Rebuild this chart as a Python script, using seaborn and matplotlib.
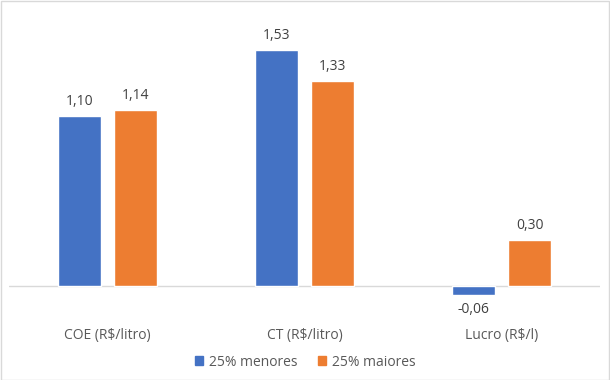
import matplotlib
matplotlib.use("Agg")
import matplotlib.pyplot as plt
import seaborn as sns
import pandas as pd
from matplotlib.patches import Rectangle

categories = ["COE (R$/litro)", "CT (R$/litro)", "Lucro (R$/l)"]
series_names = ["25% menores", "25% maiores"]
menores = [1.10, 1.53, -0.06]
maiores = [1.14, 1.33, 0.30]

rows = []
for c, a, b in zip(categories, menores, maiores):
    rows.append({"cat": c, "serie": series_names[0], "val": a})
    rows.append({"cat": c, "serie": series_names[1], "val": b})
df = pd.DataFrame(rows)

sns.set_theme(style="white")
plt.rcParams["font.family"] = ["Open Sans", "DejaVu Sans"]

fig = plt.figure(figsize=(6.1, 3.8), dpi=100)
ax = fig.add_axes([9/610, 1 - 301.4/380, 591/610, (301.4 - 16)/380])

palette = {"25% menores": "#4472C4", "25% maiores": "#ED7D31"}
sns.barplot(data=df, x="cat", y="val", hue="serie", palette=palette,
            width=0.57, gap=0.22, ax=ax, legend=False, saturation=1)

ax.set_ylim(-0.1, 1.75)
ax.set_xlim(-0.5, 2.5)
ax.axhline(0, color="#D9D9D9", lw=1, zorder=0)
for s in ax.spines.values():
    s.set_visible(False)
ax.set_yticks([])
ax.set_xlabel("")
ax.set_ylabel("")
ax.tick_params(axis="x", length=0, pad=19, labelsize=10, labelcolor="#595959")

for cont in ax.containers:
    for bar in cont:
        v = bar.get_height()
        x = bar.get_x() + bar.get_width() / 2
        txt = f"{v:.2f}".replace(".", ",")
        if v >= 0:
            ax.annotate(txt, (x, v), xytext=(0, 5), textcoords="offset points",
                        ha="center", va="bottom", fontsize=10, color="#404040")
        else:
            ax.annotate(txt, (x, v), xytext=(0, -5), textcoords="offset points",
                        ha="center", va="top", fontsize=10, color="#404040")

# legend
from matplotlib.patches import Patch
handles = [Patch(color=palette[n], label=n) for n in series_names]
fig.legend(handles=handles, loc="center", bbox_to_anchor=(305/610, 1 - 362/380),
           ncol=2, frameon=False, fontsize=10, handlelength=0.6, handleheight=0.6,
           handletextpad=0.4, columnspacing=1.5, labelcolor="#595959")

fig.patches.append(Rectangle((0.001, 0.001), 0.997, 0.997, transform=fig.transFigure,
                             fill=False, edgecolor="#D9D9D9", lw=1))

fig.savefig("out.png", dpi=100)
